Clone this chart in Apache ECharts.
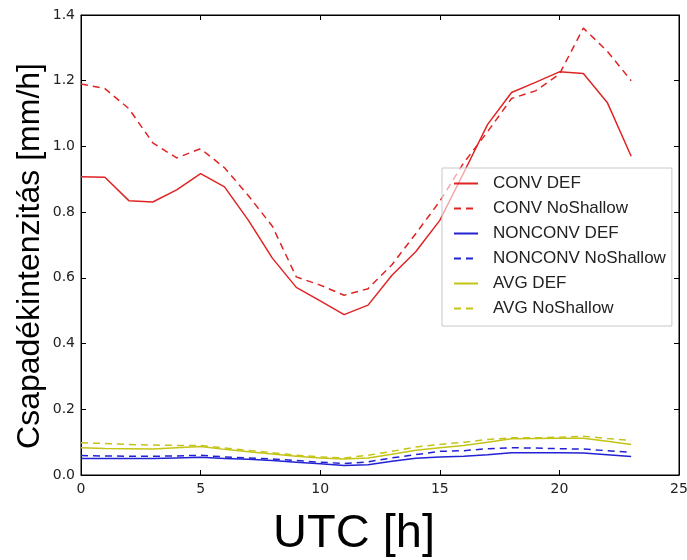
<!DOCTYPE html>
<html>
<head>
<meta charset="utf-8">
<script src="https://cdn.jsdelivr.net/npm/echarts@6/dist/echarts.min.js"></script>
<style>
  html, body { margin: 0; padding: 0; background: #fff; }
  #chart { width: 687px; height: 560px; }
</style>
</head>
<body>
<div id="chart"></div>
<script>
// Hourly (UTC) precipitation intensity, mm/h
const hours = [0,1,2,3,4,5,6,7,8,9,10,11,12,13,14,15,16,17,18,19,20,21,22,23];
const convDef = [0.908,0.906,0.835,0.831,0.868,0.917,0.877,0.775,0.660,0.571,0.530,0.488,0.517,0.608,0.680,0.775,0.920,1.067,1.164,1.195,1.227,1.222,1.134,0.970];
const convNoShallow = [1.190,1.176,1.115,1.011,0.965,0.993,0.935,0.850,0.757,0.603,0.578,0.547,0.567,0.640,0.735,0.833,0.950,1.045,1.146,1.169,1.220,1.360,1.290,1.200];
const nonconvDef = [0.050,0.050,0.050,0.050,0.052,0.054,0.050,0.048,0.044,0.039,0.034,0.029,0.031,0.042,0.051,0.055,0.057,0.062,0.068,0.068,0.068,0.067,0.062,0.056];
const nonconvNoShallow = [0.059,0.058,0.057,0.057,0.058,0.060,0.055,0.052,0.049,0.044,0.039,0.035,0.040,0.052,0.062,0.072,0.074,0.080,0.083,0.082,0.080,0.079,0.074,0.069];
const avgDef = [0.083,0.081,0.080,0.079,0.083,0.087,0.078,0.071,0.064,0.057,0.052,0.049,0.052,0.063,0.075,0.083,0.090,0.100,0.110,0.111,0.112,0.112,0.103,0.093];
const avgNoShallow = [0.098,0.096,0.093,0.091,0.090,0.090,0.082,0.075,0.068,0.060,0.055,0.052,0.060,0.072,0.085,0.093,0.100,0.108,0.113,0.113,0.115,0.118,0.111,0.105];

const xTicks = [0, 5, 10, 15, 20, 25];
const yTicks = [0.0, 0.2, 0.4, 0.6, 0.8, 1.0, 1.2, 1.4];
const xTitle = 'UTC [h]';
const yTitle = 'Csapadékintenzitás [mm/h]';

const RED = '#e02424', BLUE = '#2222d4', YELLOW = '#c4c416';
const DASH = [7, 5];

function pairs(values) {
  return hours.map((h, i) => [h, values[i]]);
}

function lineSeries(name, values, color, dashed) {
  return {
    name: name,
    type: 'line',
    data: pairs(values),
    symbol: 'none',
    smooth: false,
    color: color,
    itemStyle: { color: color },
    lineStyle: { color: color, width: 1.5, type: dashed ? DASH : 'solid' },
    emphasis: { disabled: true },
    z: 2
  };
}

const tickFont = { fontFamily: 'DejaVu Sans', fontSize: 14, color: '#222' };

function xAxisDef(extra) {
  return Object.assign({
    type: 'value', min: xTicks[0], max: xTicks[xTicks.length - 1], interval: 5,
    splitLine: { show: false },
    axisLine: { show: true, onZero: false, lineStyle: { color: '#000', width: 1 } },
    axisTick: { show: true, inside: true, length: 5, lineStyle: { color: '#000' } }
  }, extra);
}
function yAxisDef(extra) {
  return Object.assign({
    type: 'value', min: yTicks[0], max: yTicks[yTicks.length - 1], interval: 0.2,
    splitLine: { show: false },
    axisLine: { show: true, onZero: false, lineStyle: { color: '#000', width: 1 } },
    axisTick: { show: true, inside: true, length: 5, lineStyle: { color: '#000' } }
  }, extra);
}

const chart = echarts.init(document.getElementById('chart'), null, { renderer: 'canvas' });
chart.setOption({
  animation: false,
  backgroundColor: '#fff',
  grid: {
    left: 81, right: 8, top: 15, bottom: 85,
    containLabel: false, outerBoundsMode: 'none',
    show: true, borderColor: '#000', borderWidth: 1, backgroundColor: 'transparent'
  },
  xAxis: [
    xAxisDef({
      position: 'bottom',
      axisLabel: Object.assign({ margin: 7, formatter: v => String(v) }, tickFont)
    }),
    xAxisDef({ position: 'top', axisLabel: { show: false } })
  ],
  yAxis: [
    yAxisDef({
      position: 'left',
      axisLabel: Object.assign({ margin: 6, formatter: v => v.toFixed(1) }, tickFont)
    }),
    yAxisDef({ position: 'right', axisLabel: { show: false } })
  ],
  graphic: [
    {
      type: 'text',
      x: 30, y: 256,
      rotation: Math.PI / 2,
      style: {
        text: yTitle,
        fontFamily: 'Liberation Sans', fontSize: 32, fill: '#000',
        align: 'center', verticalAlign: 'middle'
      }
    },
    {
      type: 'text',
      x: 354, y: 511,
      style: {
        text: xTitle,
        fontFamily: 'Liberation Sans', fontSize: 47, fill: '#000',
        align: 'center', verticalAlign: 'top'
      }
    }
  ],
  legend: {
    show: true,
    orient: 'vertical',
    left: 442, top: 168,
    padding: [7, 6, 9, 11],
    itemWidth: 24, itemHeight: 14, itemGap: 8,
    backgroundColor: 'rgba(255,255,255,0.6)',
    borderColor: '#c8c8c8', borderWidth: 1,
    itemStyle: { opacity: 0 },
    textStyle: { fontFamily: 'Liberation Sans', fontSize: 17, color: '#222', padding: [0, 0, 0, 10] },
    data: ['CONV DEF', 'CONV NoShallow', 'NONCONV DEF', 'NONCONV NoShallow', 'AVG DEF', 'AVG NoShallow']
  },
  series: [
    lineSeries('CONV DEF', convDef, RED, false),
    lineSeries('CONV NoShallow', convNoShallow, RED, true),
    lineSeries('NONCONV DEF', nonconvDef, BLUE, false),
    lineSeries('NONCONV NoShallow', nonconvNoShallow, BLUE, true),
    lineSeries('AVG DEF', avgDef, YELLOW, false),
    lineSeries('AVG NoShallow', avgNoShallow, YELLOW, true)
  ]
});
</script>
</body>
</html>
